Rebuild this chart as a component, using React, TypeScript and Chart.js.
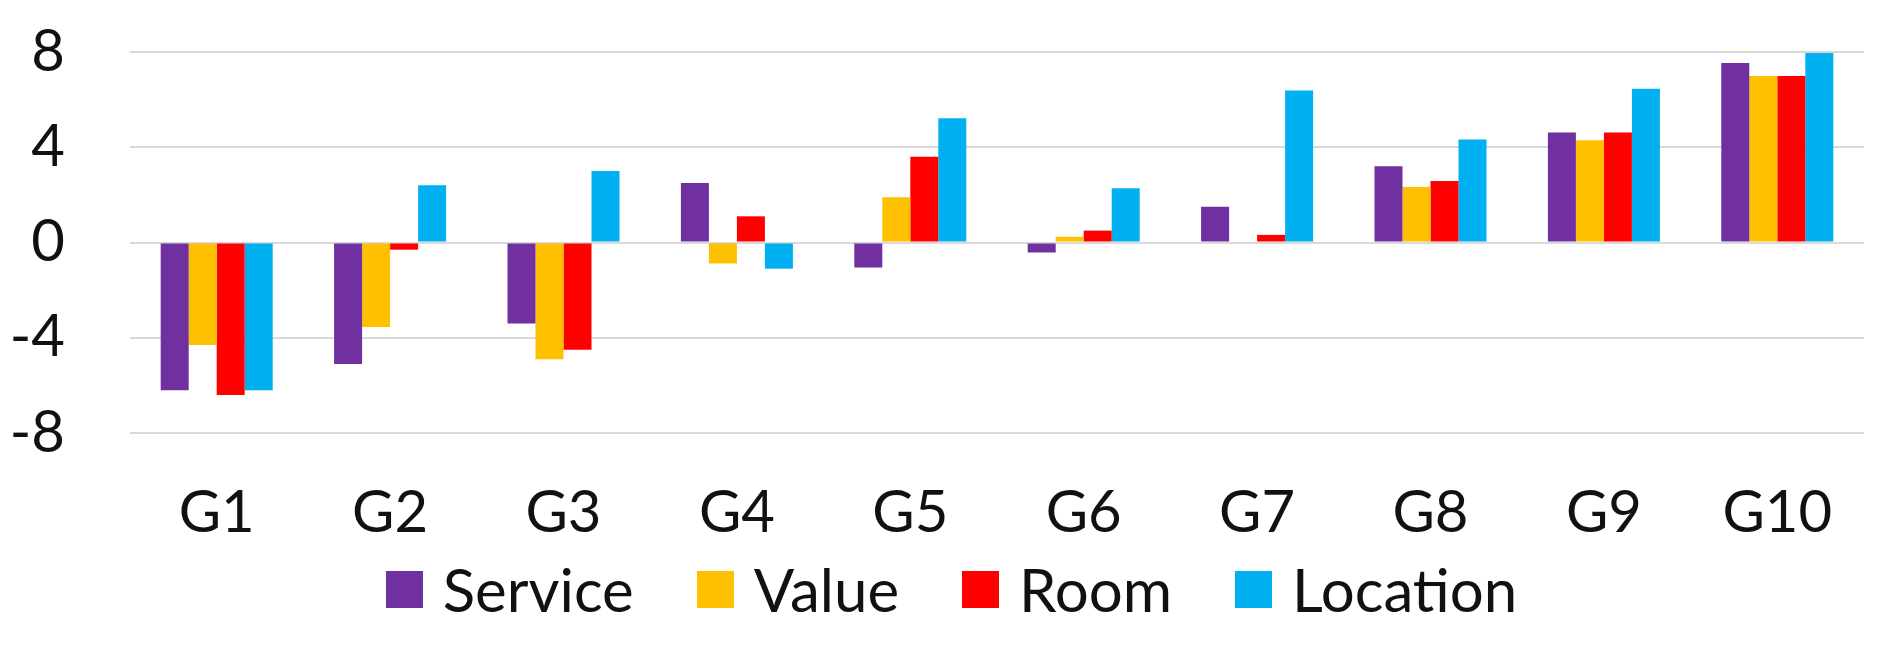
import React, { useEffect, useRef } from "react";
import { Chart, registerables } from "chart.js";

Chart.register(...registerables);

const categories = ["G1", "G2", "G3", "G4", "G5", "G6", "G7", "G8", "G9", "G10"];
const seriesNames = ["Service", "Value", "Room", "Location"];
const serviceValues = [-6.2, -5.1, -3.4, 2.5, -1.05, -0.42, 1.5, 3.2, 4.62, 7.54];
const valueValues = [-4.3, -3.55, -4.9, -0.88, 1.9, 0.24, 0, 2.33, 4.29, 6.99];
const roomValues = [-6.4, -0.3, -4.5, 1.1, 3.6, 0.5, 0.32, 2.58, 4.62, 6.99];
const locationValues = [-6.2, 2.4, 3.0, -1.1, 5.22, 2.28, 6.38, 4.33, 6.46, 7.96];
const seriesColors = ["#7030A0", "#FFC000", "#FF0000", "#00B0F0"];
const yMin = -8;
const yMax = 8;
const yStep = 4;

const TEXT_COLOR = "#111111";
const FONT = "Lato";

export default function App() {
  const canvasRef = useRef<HTMLCanvasElement | null>(null);

  useEffect(() => {
    if (!canvasRef.current) return;
    const allValues = [serviceValues, valueValues, roomValues, locationValues];
    const chart = new Chart(canvasRef.current, {
      type: "bar",
      data: {
        labels: categories,
        datasets: seriesNames.map((name, i) => ({
          label: name,
          data: allValues[i],
          backgroundColor: seriesColors[i],
          borderWidth: 0,
          categoryPercentage: 0.646,
          barPercentage: 1,
        })),
      },
      options: {
        responsive: false,
        animation: false,
        devicePixelRatio: 1,
        layout: { padding: { top: 52, right: 22, bottom: 0, left: 0 } },
        plugins: {
          tooltip: { enabled: false },
          legend: { display: false },
        },
        scales: {
          x: {
            grid: { display: false, drawTicks: false },
            border: { display: false },
            ticks: {
              padding: 45,
              color: TEXT_COLOR,
              font: { family: FONT, size: 58 },
              maxRotation: 0,
              autoSkip: false,
            },
            afterFit: (scale: any) => {
              scale.height = 216;
              scale.paddingLeft = 0;
              scale.paddingRight = 0;
            },
          },
          y: {
            min: yMin,
            max: yMax,
            grid: { color: "#D9D9D9", lineWidth: 2, drawTicks: false },
            border: { display: false },
            ticks: {
              stepSize: yStep,
              padding: 65,
              color: TEXT_COLOR,
              font: { family: FONT, size: 58 },
            },
            afterFit: (scale: any) => {
              scale.width = 130;
              scale.paddingTop = 0;
              scale.paddingBottom = 0;
            },
          },
        },
      },
    });
    return () => chart.destroy();
  }, []);

  return (
    <div
      style={{
        position: "fixed",
        left: 0,
        top: 0,
        width: 1886,
        height: 649,
        background: "#ffffff",
        overflow: "hidden",
      }}
    >
      <canvas ref={canvasRef} width={1886} height={649} style={{ display: "block" }} />
      <div
        style={{
          position: "absolute",
          left: 17,
          width: 1869,
          top: 559,
          height: 60,
          display: "flex",
          justifyContent: "center",
          alignItems: "center",
          fontFamily: FONT,
          fontSize: 60,
          lineHeight: "60px",
          color: TEXT_COLOR,
          whiteSpace: "nowrap",
        }}
      >
        {seriesNames.map((name, i) => (
          <div
            key={name}
            style={{
              display: "flex",
              alignItems: "center",
              marginRight: i < seriesNames.length - 1 ? 63 : 0,
            }}
          >
            <span
              style={{
                display: "inline-block",
                width: 37,
                height: 37,
                background: seriesColors[i],
                marginRight: 20,
              }}
            />
            <span>{name}</span>
          </div>
        ))}
      </div>
    </div>
  );
}
